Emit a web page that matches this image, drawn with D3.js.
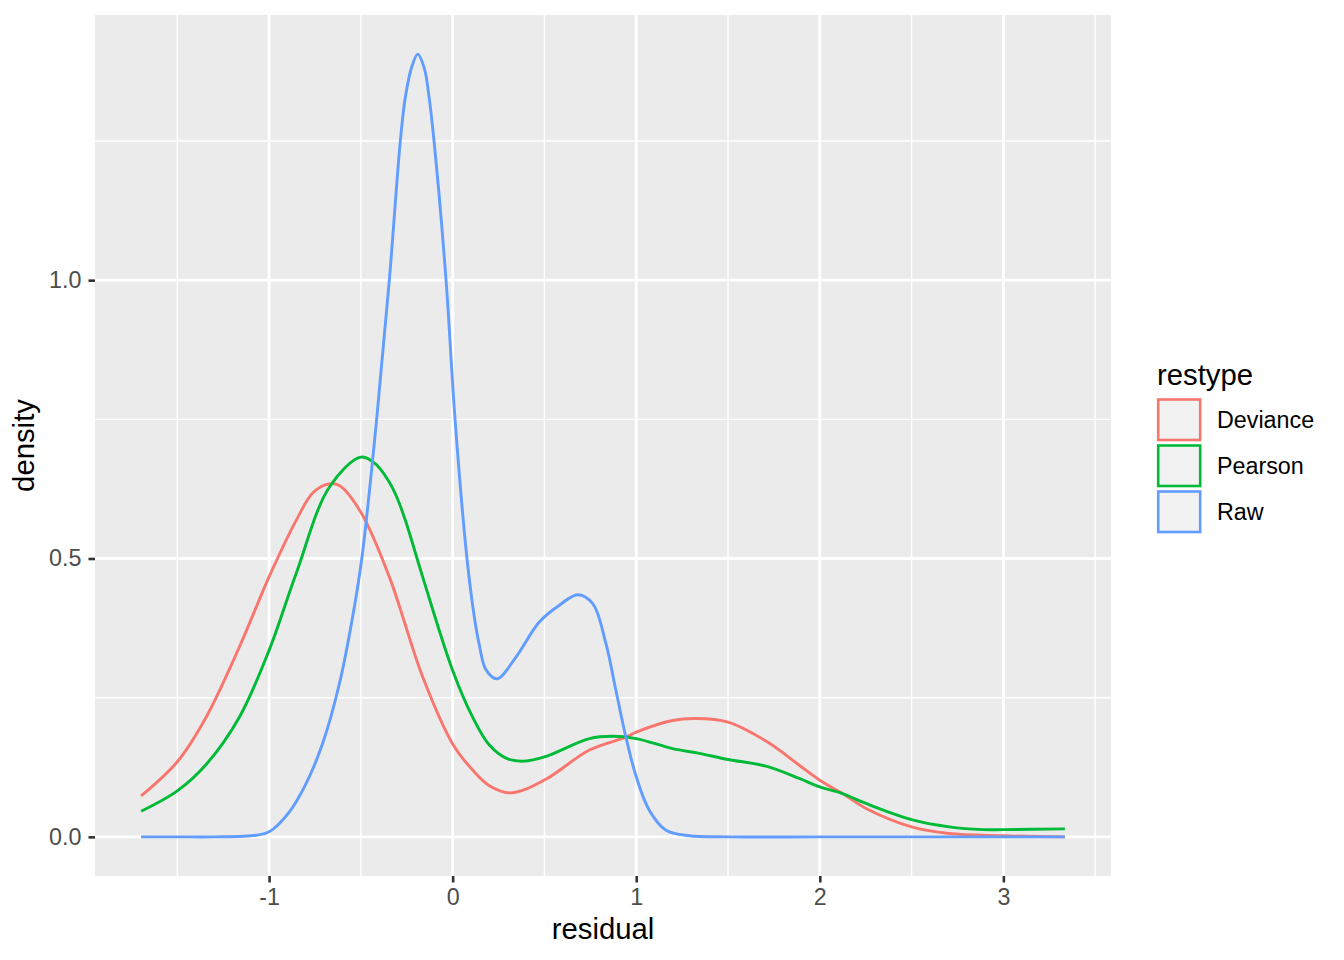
<!DOCTYPE html>
<html>
<head>
<meta charset="utf-8">
<script src="https://cdn.jsdelivr.net/npm/d3@7"></script>
<style>
  html, body { margin: 0; padding: 0; background: #ffffff; }
  svg { display: block; }
  text { font-family: "Liberation Sans", Arial, Helvetica, sans-serif; }
</style>
</head>
<body>
<svg id="chart" width="1344" height="960"></svg>
<script>
// ---- data ----
const seriesNames = ["Deviance", "Pearson", "Raw"];
const seriesColors = ["#F8766D", "#00BA38", "#619CFF"];

const devianceX = [-1.697, -1.5, -1.343, -1.162, -1, -0.853, -0.76, -0.672, -0.617, -0.5, -0.345, -0.163, 0, 0.109, 0.2, 0.318, 0.5, 0.745, 0.944, 1.0, 1.198, 1.326, 1.5, 1.707, 1.888, 2.0, 2.124, 2.252, 2.5, 2.705, 3.0, 3.335];
const devianceY = [0.0736, 0.135, 0.215, 0.341, 0.467, 0.568, 0.6185, 0.634, 0.631, 0.583, 0.467, 0.287, 0.167, 0.12, 0.092, 0.079, 0.102, 0.156, 0.179, 0.188, 0.209, 0.2125, 0.206, 0.172, 0.1287, 0.1017, 0.0778, 0.051, 0.018, 0.006, 0.002, 0.0];

const pearsonX = [-1.697, -1.5, -1.343, -1.162, -1, -0.853, -0.672, -0.5, -0.42, -0.345, -0.3, -0.254, -0.163, 0, 0.109, 0.2, 0.3, 0.39, 0.5, 0.745, 0.872, 1.0, 1.198, 1.344, 1.5, 1.707, 1.888, 2.0, 2.124, 2.252, 2.5, 2.705, 2.887, 3.0, 3.335];
const pearsonY = [0.046, 0.0826, 0.13, 0.215, 0.335, 0.4726, 0.628, 0.682, 0.670, 0.637, 0.607, 0.565, 0.4665, 0.299, 0.215, 0.165, 0.14, 0.136, 0.1435, 0.1765, 0.1807, 0.1765, 0.1586, 0.15, 0.139, 0.127, 0.105, 0.0897, 0.0778, 0.06, 0.031, 0.018, 0.013, 0.013, 0.0144];

const rawX = [-1.697, -1.5, -1.3, -1.071, -1, -0.889, -0.798, -0.708, -0.617, -0.545, -0.495, -0.414, -0.345, -0.285, -0.258, -0.221, -0.19, -0.154, -0.131, -0.1, -0.036, 0.013, 0.078, 0.118, 0.145, 0.182, 0.242, 0.345, 0.472, 0.581, 0.681, 0.763, 0.835, 0.89, 0.944, 1.0, 1.071, 1.162, 1.29, 1.5, 2.0, 2.5, 3.0, 3.335];
const rawY = [0, 0, 0, 0.003, 0.009, 0.045, 0.096, 0.168, 0.275, 0.395, 0.5, 0.75, 1.0, 1.25, 1.328, 1.385, 1.406, 1.38, 1.335, 1.245, 1.0, 0.75, 0.5, 0.395, 0.345, 0.3, 0.284, 0.323, 0.386, 0.416, 0.435, 0.419, 0.347, 0.262, 0.179, 0.108, 0.048, 0.012, 0.002, 0, 0, 0, 0, 0];

const xTicks = [-1, 0, 1, 2, 3];
const xMinorTicks = [-1.5, -0.5, 0.5, 1.5, 2.5, 3.5];
const yTicks = [0, 0.5, 1.0];
const yTickLabels = ["0.0", "0.5", "1.0"];
const yMinorTicks = [0.25, 0.75, 1.25];

const seriesX = [devianceX, pearsonX, rawX];
const seriesY = [devianceY, pearsonY, rawY];

// ---- layout ----
const svg = d3.select("#chart");
const panel = { left: 95, right: 1111, top: 15, bottom: 876 };

const xs = d3.scaleLinear().domain([-1.9483, 3.5863]).range([panel.left, panel.right]);
const ys = d3.scaleLinear().domain([-0.0703, 1.4763]).range([panel.bottom, panel.top]);

// panel background
svg.append("rect")
  .attr("x", panel.left).attr("y", panel.top)
  .attr("width", panel.right - panel.left).attr("height", panel.bottom - panel.top)
  .attr("fill", "#EBEBEB");

const grid = svg.append("g");
// minor grid
grid.selectAll(".xminor").data(xMinorTicks).enter().append("line")
  .attr("x1", d => xs(d)).attr("x2", d => xs(d))
  .attr("y1", panel.top).attr("y2", panel.bottom)
  .attr("stroke", "#ffffff").attr("stroke-width", 1.4);
grid.selectAll(".yminor").data(yMinorTicks).enter().append("line")
  .attr("y1", d => ys(d)).attr("y2", d => ys(d))
  .attr("x1", panel.left).attr("x2", panel.right)
  .attr("stroke", "#ffffff").attr("stroke-width", 1.4);
// major grid
grid.selectAll(".xmajor").data(xTicks).enter().append("line")
  .attr("x1", d => xs(d)).attr("x2", d => xs(d))
  .attr("y1", panel.top).attr("y2", panel.bottom)
  .attr("stroke", "#ffffff").attr("stroke-width", 2.8);
grid.selectAll(".ymajor").data(yTicks).enter().append("line")
  .attr("y1", d => ys(d)).attr("y2", d => ys(d))
  .attr("x1", panel.left).attr("x2", panel.right)
  .attr("stroke", "#ffffff").attr("stroke-width", 2.8);

// curves
const line = d3.line()
  .x(d => xs(d[0])).y(d => ys(Math.max(0, d[1])))
  .curve(d3.curveCatmullRom.alpha(0.5));

seriesNames.forEach((name, i) => {
  const pts = seriesX[i].map((x, j) => [x, seriesY[i][j]]);
  svg.append("path")
    .datum(pts)
    .attr("d", line)
    .attr("fill", "none")
    .attr("stroke", seriesColors[i])
    .attr("stroke-width", 2.9)
    .attr("stroke-linejoin", "round");
});

// axes
const xAxis = d3.axisBottom(xs).tickValues(xTicks).tickSize(6.5).tickPadding(6).tickFormat(d3.format("d"));
const gx = svg.append("g").attr("transform", `translate(0,${panel.bottom})`).call(xAxis);
gx.select(".domain").remove();
gx.selectAll(".tick line").attr("stroke", "#333333").attr("stroke-width", 2.6);
gx.selectAll(".tick text").attr("fill", "#4D4D4D").attr("font-size", "23.3px")
  .attr("font-family", "Liberation Sans, Arial, sans-serif")
  .text((d, i) => String(xTicks[i]));

const yAxis = d3.axisLeft(ys).tickValues(yTicks).tickSize(6.5).tickPadding(7)
  .tickFormat((d, i) => yTickLabels[i]);
const gy = svg.append("g").attr("transform", `translate(${panel.left},0)`).call(yAxis);
gy.select(".domain").remove();
gy.selectAll(".tick line").attr("stroke", "#333333").attr("stroke-width", 2.6);
gy.selectAll(".tick text").attr("fill", "#4D4D4D").attr("font-size", "23.3px")
  .attr("font-family", "Liberation Sans, Arial, sans-serif");

// axis titles
svg.append("text")
  .attr("x", (panel.left + panel.right) / 2).attr("y", 939)
  .attr("text-anchor", "middle")
  .attr("font-size", "29.3px").attr("fill", "#000000")
  .text("residual");

svg.append("text")
  .attr("transform", `translate(34,${(panel.top + panel.bottom) / 2}) rotate(-90)`)
  .attr("text-anchor", "middle")
  .attr("font-size", "29.3px").attr("fill", "#000000")
  .text("density");

// legend
const legend = svg.append("g");
legend.append("text")
  .attr("x", 1157).attr("y", 385)
  .attr("font-size", "29.3px").attr("fill", "#000000")
  .text("restype");

const keyTop = 398, keyH = 46;
seriesNames.forEach((name, i) => {
  const y0 = keyTop + i * keyH;
  legend.append("rect")
    .attr("x", 1158.2).attr("y", y0 + 1.5)
    .attr("width", 42).attr("height", 40.5)
    .attr("fill", "#F2F2F2")
    .attr("stroke", seriesColors[i])
    .attr("stroke-width", 2.6);
  legend.append("text")
    .attr("x", 1217).attr("y", y0 + 22)
    .attr("dominant-baseline", "central")
    .attr("font-size", "23.3px").attr("fill", "#000000")
    .text(name);
});
</script>
</body>
</html>
